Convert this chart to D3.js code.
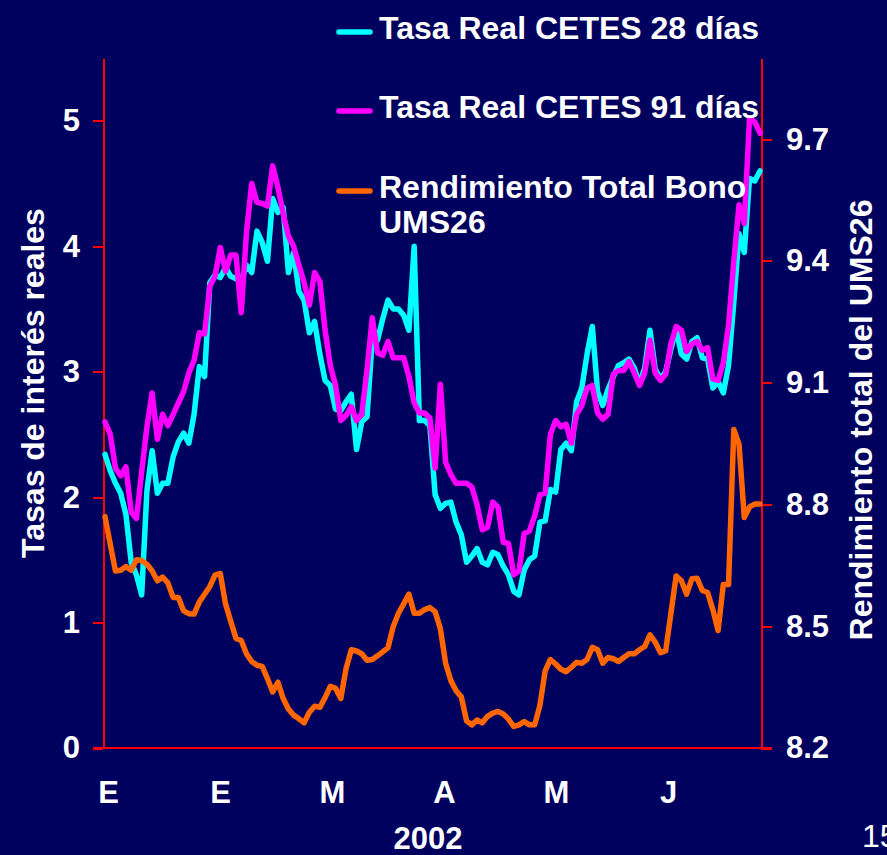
<!DOCTYPE html>
<html>
<head>
<meta charset="utf-8">
<title>Tasas de interés reales y Rendimiento UMS26</title>
<script src="https://d3js.org/d3.v7.min.js"></script>
<style>
body { margin: 0; background: #00005f; }
svg { display: block; }
text { font-family: "Liberation Sans", Arial, sans-serif; font-weight: bold; fill: #ffffff; }
</style>
</head>
<body>
<svg class="chart"></svg>
<script>
// month labels along the bottom (2002)
var months = ["E", "E", "M", "A", "M", "J"];

// Tasa Real CETES 28 dias (left axis)
var cetes28 = [
  2.34, 2.21, 2.11, 2.03, 1.86, 1.48, 1.38, 1.22, 2.05, 2.37,
  2.03, 2.11, 2.11, 2.32, 2.44, 2.51, 2.43, 2.66, 3.04, 2.96,
  3.71, 3.77, 3.75, 3.83, 3.76, 3.74, 3.72, 3.85, 3.79, 4.12,
  4.03, 3.88, 4.38, 4.27, 4.31, 3.79, 3.95, 3.64, 3.57, 3.31,
  3.40, 3.14, 2.93, 2.89, 2.70, 2.69, 2.76, 2.82, 2.38, 2.60,
  2.64, 3.25, 3.25, 3.42, 3.57, 3.50, 3.50, 3.45, 3.33, 4.00,
  2.61, 2.61, 2.57, 2.02, 1.91, 1.95, 1.96, 1.80, 1.70, 1.48,
  1.53, 1.59, 1.48, 1.46, 1.56, 1.54, 1.45, 1.38, 1.25, 1.22,
  1.42, 1.50, 1.53, 1.80, 1.81, 2.06, 2.04, 2.38, 2.43, 2.37,
  2.76, 2.87, 3.14, 3.36, 2.84, 2.73, 2.86, 2.96, 3.05, 3.07,
  3.10, 3.03, 2.90, 3.03, 3.33, 3.02, 2.94, 3.00, 3.18, 3.34,
  3.14, 3.10, 3.24, 3.27, 3.11, 3.10, 2.87, 2.92, 2.83, 3.05,
  3.55, 4.10, 3.95, 4.54, 4.52, 4.60
];

// Tasa Real CETES 91 dias (left axis)
var cetes91 = [
  2.60, 2.50, 2.23, 2.17, 2.24, 1.88, 1.83, 2.20, 2.56, 2.83,
  2.46, 2.66, 2.57, 2.66, 2.75, 2.84, 2.99, 3.09, 3.31, 3.30,
  3.68, 3.76, 3.99, 3.80, 3.93, 3.93, 3.47, 4.11, 4.50, 4.35,
  4.34, 4.32, 4.64, 4.47, 4.26, 4.08, 4.00, 3.85, 3.71, 3.53,
  3.79, 3.72, 3.33, 3.05, 2.89, 2.61, 2.65, 2.72, 2.61, 2.66,
  3.01, 3.43, 3.15, 3.13, 3.24, 3.11, 3.11, 3.11, 2.96, 2.75,
  2.67, 2.67, 2.63, 2.23, 2.90, 2.28, 2.18, 2.11, 2.11, 2.11,
  2.08, 1.94, 1.74, 1.76, 1.96, 1.92, 1.64, 1.63, 1.38, 1.41,
  1.71, 1.73, 1.85, 2.02, 2.03, 2.50, 2.61, 2.56, 2.58, 2.43,
  2.66, 2.73, 2.87, 2.89, 2.67, 2.62, 2.66, 2.98, 3.01, 3.01,
  3.08, 2.99, 2.89, 2.99, 3.25, 2.99, 2.93, 2.98, 3.22, 3.36,
  3.33, 3.16, 3.22, 3.24, 3.17, 3.19, 2.94, 2.93, 3.07, 3.37,
  3.88, 4.33, 4.18, 5.02, 4.99, 4.90
];

// Rendimiento Total Bono UMS26 (right axis)
var ums26 = [
  8.770, 8.702, 8.636, 8.638, 8.647, 8.638, 8.664, 8.662, 8.653, 8.636,
  8.612, 8.621, 8.607, 8.571, 8.571, 8.538, 8.531, 8.530, 8.560, 8.579,
  8.598, 8.626, 8.630, 8.555, 8.512, 8.470, 8.465, 8.432, 8.413, 8.404,
  8.401, 8.371, 8.338, 8.362, 8.322, 8.296, 8.281, 8.272, 8.262, 8.288,
  8.303, 8.300, 8.324, 8.352, 8.347, 8.322, 8.395, 8.442, 8.439, 8.432,
  8.416, 8.418, 8.427, 8.437, 8.447, 8.499, 8.532, 8.555, 8.579, 8.532,
  8.532, 8.541, 8.546, 8.536, 8.494, 8.409, 8.366, 8.341, 8.326, 8.267,
  8.257, 8.269, 8.262, 8.278, 8.286, 8.290, 8.284, 8.271, 8.253, 8.257,
  8.265, 8.257, 8.257, 8.305, 8.390, 8.418, 8.407, 8.394, 8.388, 8.399,
  8.411, 8.409, 8.418, 8.448, 8.442, 8.409, 8.423, 8.420, 8.413, 8.423,
  8.432, 8.432, 8.442, 8.450, 8.479, 8.461, 8.435, 8.439, 8.532, 8.624,
  8.612, 8.579, 8.617, 8.618, 8.588, 8.583, 8.541, 8.489, 8.603, 8.603,
  8.985, 8.948, 8.768, 8.794, 8.801, 8.801
];

var leftTicks = [0, 1, 2, 3, 4, 5];
var rightTicks = [8.2, 8.5, 8.8, 9.1, 9.4, 9.7];

var legendLabels = [
  ["Tasa Real CETES 28 días"],
  ["Tasa Real CETES 91 días"],
  ["Rendimiento Total Bono", "UMS26"]
];
var legendColors = ["#00ffff", "#ff00ff", "#ff6600"];

//set up chart
var margin = {top: 58, right: 126, bottom: 107, left: 103};
var width = 658;
var height = 690;
var axisColor = "#ff0000";

var svg = d3.select(".chart")
  .attr("width", width + margin.left + margin.right)
  .attr("height", height + margin.top + margin.bottom);

svg.append("rect")
  .attr("width", width + margin.left + margin.right)
  .attr("height", height + margin.top + margin.bottom)
  .attr("fill", "#00005f");

var chart = svg.append("g")
  .attr("transform", "translate(" + margin.left + "," + margin.top + ")");

var xChart = d3.scaleLinear()
  .domain([0, cetes28.length - 1])
  .range([2, width - 1]);

var yLeft = d3.scaleLinear().domain([0, 5.5]).range([height, 0]);
var yRight = d3.scaleLinear().domain([8.2, 9.9]).range([height, 0]);

var monthX = d3.scalePoint()
  .domain(d3.range(months.length))
  .range([5, 565]);

// left axis
var yAxisLeft = d3.axisLeft(yLeft)
  .tickValues(leftTicks)
  .tickSize(10)
  .tickSizeOuter(0)
  .tickPadding(13)
  .tickFormat(d3.format("d"));

// right axis
var yAxisRight = d3.axisRight(yRight)
  .tickValues(rightTicks)
  .tickSize(11)
  .tickSizeOuter(0)
  .tickPadding(14)
  .tickFormat(d3.format(".1f"));

chart.append("g")
  .attr("class", "y axis left")
  .call(yAxisLeft);

chart.append("g")
  .attr("class", "y axis right")
  .attr("transform", "translate(" + width + ",0)")
  .call(yAxisRight);

chart.selectAll(".axis path, .axis line")
  .attr("stroke", axisColor)
  .attr("stroke-width", 2)
  .attr("shape-rendering", "crispEdges");

chart.selectAll(".axis text")
  .style("font-size", "31px")
  .attr("fill", "#ffffff");

// bottom baseline, runs over both axis ticks
chart.append("line")
  .attr("x1", -10)
  .attr("x2", width + 11)
  .attr("y1", height)
  .attr("y2", height)
  .attr("stroke", axisColor)
  .attr("stroke-width", 2)
  .attr("shape-rendering", "crispEdges");

// month labels
var xAxis = d3.axisBottom(monthX)
  .tickSize(0)
  .tickPadding(33)
  .tickFormat(function(i){ return months[i]; });

chart.append("g")
  .attr("class", "xAxis")
  .attr("transform", "translate(0," + height + ")")
  .call(xAxis)
  .call(function(g){ g.select(".domain").remove(); })
  .selectAll("text")
    .style("font-size", "31px")
    .attr("fill", "#ffffff");

// series lines
var lineLeft = d3.line()
  .x(function(d, i){ return xChart(i); })
  .y(function(d){ return yLeft(d); });

var lineRight = d3.line()
  .x(function(d, i){ return xChart(i); })
  .y(function(d){ return yRight(d); });

var series = [
  {values: cetes28, line: lineLeft, color: legendColors[0]},
  {values: cetes91, line: lineLeft, color: legendColors[1]},
  {values: ums26, line: lineRight, color: legendColors[2]}
];

series.forEach(function(s){
  chart.append("path")
    .datum(s.values)
    .attr("d", s.line)
    .attr("fill", "none")
    .attr("stroke", s.color)
    .attr("stroke-width", 5.5)
    .attr("stroke-linejoin", "round")
    .attr("stroke-linecap", "round");
});

// axis titles
svg.append("text")
  .attr("transform", "translate(44,383) rotate(-90)")
  .attr("text-anchor", "middle")
  .style("font-size", "32px")
  .text("Tasas de interés reales");

svg.append("text")
  .attr("transform", "translate(872,420) rotate(-90)")
  .attr("text-anchor", "middle")
  .style("font-size", "32px")
  .text("Rendimiento total del UMS26");

svg.append("text")
  .attr("x", 428)
  .attr("y", 849)
  .attr("text-anchor", "middle")
  .style("font-size", "31px")
  .text("2002");

// slide number, cut by the right edge as on the slide
svg.append("text")
  .attr("x", 862)
  .attr("y", 847)
  .style("font-size", "32px")
  .style("font-weight", "normal")
  .text("15");

// legend
var legend = svg.append("g")
  .attr("transform", "translate(337,39)");

var rowY = [0, 79, 159];

legendLabels.forEach(function(lines, k){
  var row = legend.append("g")
    .attr("transform", "translate(0," + rowY[k] + ")");
  row.append("line")
    .attr("x1", 2).attr("x2", 33)
    .attr("y1", -7).attr("y2", -7)
    .attr("stroke", legendColors[k])
    .attr("stroke-width", 5.5)
    .attr("stroke-linecap", "round");
  lines.forEach(function(t, j){
    row.append("text")
      .attr("x", 42)
      .attr("y", j * 35)
      .style("font-size", "32px")
      .text(t);
  });
});
</script>
</body>
</html>
